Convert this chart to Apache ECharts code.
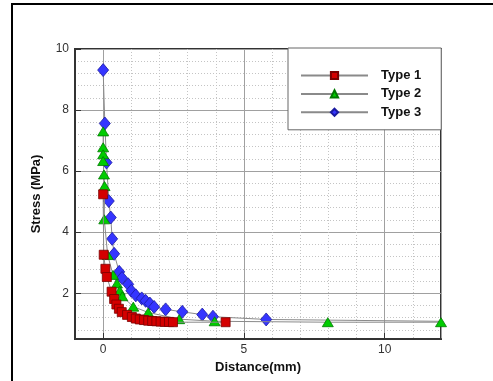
<!DOCTYPE html>
<html>
<head>
<meta charset="utf-8">
<script src="https://cdn.jsdelivr.net/npm/echarts@6/dist/echarts.min.js"></script>
<style>
  html, body { margin: 0; padding: 0; background: #fff; }
  #chart { width: 493px; height: 381px; }
</style>
</head>
<body>
<div id="chart"></div>
<script>
// 读图估计的数据 (distance mm, stress MPa)
const seriesNames = ['Type 1', 'Type 2', 'Type 3'];

const type1X = [0, 0.02, 0.08, 0.13, 0.3, 0.39, 0.47, 0.56, 0.66, 0.85, 1.02, 1.16, 1.3, 1.45, 1.6, 1.74, 1.89, 2.04, 2.19, 2.34, 2.48, 4.35];
const type1Y = [5.24, 3.26, 2.8, 2.53, 2.05, 1.81, 1.63, 1.49, 1.38, 1.29, 1.22, 1.17, 1.14, 1.12, 1.1, 1.09, 1.08, 1.07, 1.06, 1.06, 1.05, 1.05];

const type2X = [0, 0, 0, 0, 0.03, 0.05, 0.04, 0.16, 0.35, 0.49, 0.59, 0.68, 1.07, 1.6, 2.7, 3.96, 7.98, 12];
const type2Y = [7.3, 6.78, 6.55, 6.33, 5.89, 5.51, 4.42, 3.25, 2.6, 2.32, 2.08, 1.9, 1.56, 1.37, 1.15, 1.08, 1.05, 1.05];

const type3X = [0, 0.06, 0.12, 0.2, 0.27, 0.32, 0.39, 0.57, 0.67, 0.89, 1.0, 1.16, 1.37, 1.51, 1.66, 1.81, 2.22, 2.81, 3.52, 3.9, 5.79, 14];
const type3Y = [9.31, 7.56, 6.28, 5.02, 4.48, 3.78, 3.29, 2.7, 2.5, 2.29, 2.08, 1.93, 1.83, 1.75, 1.66, 1.55, 1.47, 1.39, 1.3, 1.23, 1.14, 1.06];

const pair = (xs, ys) => xs.map((x, i) => [x, ys[i]]);

const chart = echarts.init(document.getElementById('chart'));

const lineStyle = { color: '#8a8a8a', width: 1 };

chart.setOption({
  backgroundColor: '#fff',
  animation: false,
  textStyle: { fontFamily: 'Liberation Sans, Arial, sans-serif' },
  // 外框
  graphic: [{
    type: 'rect',
    shape: { x: 12, y: 4, width: 600, height: 500 },
    style: { fill: 'none', stroke: '#000', lineWidth: 2 },
    silent: true
  }],
  grid: {
    left: 75, right: 52, top: 49, bottom: 42,
    show: true, borderColor: '#333', borderWidth: 2, backgroundColor: 'transparent'
  },
  legend: {
    orient: 'vertical',
    left: 288, top: 48,
    padding: [21, 20, 11, 12],
    itemWidth: 67, itemHeight: 9, itemGap: 5.4,
    backgroundColor: '#fff',
    borderColor: '#666', borderWidth: 1,
    textStyle: { fontSize: 13, fontWeight: 'bold', color: '#111', padding: [0, 0, 0, 8] },
    data: seriesNames
  },
  xAxis: {
    type: 'value',
    min: -1, max: 12, splitNumber: 3,
    name: 'Distance(mm)',
    nameLocation: 'middle', nameGap: 20,
    nameTextStyle: { fontSize: 13, fontWeight: 'bold', color: '#111' },
    axisLine: { show: true, onZero: false, lineStyle: { color: '#333', width: 2 } },
    axisTick: { show: true, inside: true, length: 6, lineStyle: { color: '#333' } },
    minorTick: { show: false },
    axisLabel: { showMinLabel: false, showMaxLabel: false, fontSize: 12, color: '#333', margin: 5 },
    splitLine: { show: true, lineStyle: { color: '#a0a0a0', width: 1 } },
    minorSplitLine: { show: true, lineStyle: { color: '#c4c4c4', width: 1, type: [1, 2] } }
  },
  yAxis: {
    type: 'value',
    min: 0.5, max: 10, splitNumber: 5,
    name: 'Stress (MPa)',
    nameLocation: 'middle', nameGap: 32,
    nameTextStyle: { fontSize: 13, fontWeight: 'bold', color: '#111' },
    axisLine: { show: true, onZero: false, lineStyle: { color: '#333', width: 2 } },
    axisTick: { show: true, inside: true, length: 6, lineStyle: { color: '#333' } },
    minorTick: { show: false },
    axisLabel: { showMinLabel: false, fontSize: 12, color: '#333', margin: 6 },
    splitLine: { show: true, lineStyle: { color: '#a0a0a0', width: 1 } },
    minorSplitLine: { show: true, lineStyle: { color: '#c4c4c4', width: 1, type: [1, 2] } }
  },
  series: [
    {
      name: 'Type 1', type: 'line', data: pair(type1X, type1Y),
      symbol: 'rect', symbolSize: 9, showAllSymbol: true, clip: true, z: 4,
      lineStyle,
      itemStyle: { color: '#d40000', borderColor: '#7a0000', borderWidth: 0.8 }
    },
    {
      name: 'Type 2', type: 'line', data: pair(type2X, type2Y),
      symbol: 'triangle', symbolSize: [11, 9], showAllSymbol: true, clip: true, z: 3,
      lineStyle,
      itemStyle: { color: '#00cc00', borderColor: '#007a00', borderWidth: 0.8 }
    },
    {
      name: 'Type 3', type: 'line', data: pair(type3X, type3Y),
      symbol: 'diamond', symbolSize: [11, 13], showAllSymbol: true, clip: true, z: 2,
      lineStyle,
      itemStyle: { color: '#3535ff', borderColor: '#1a1aa0', borderWidth: 0.8 }
    }
  ]
});
</script>
</body>
</html>
